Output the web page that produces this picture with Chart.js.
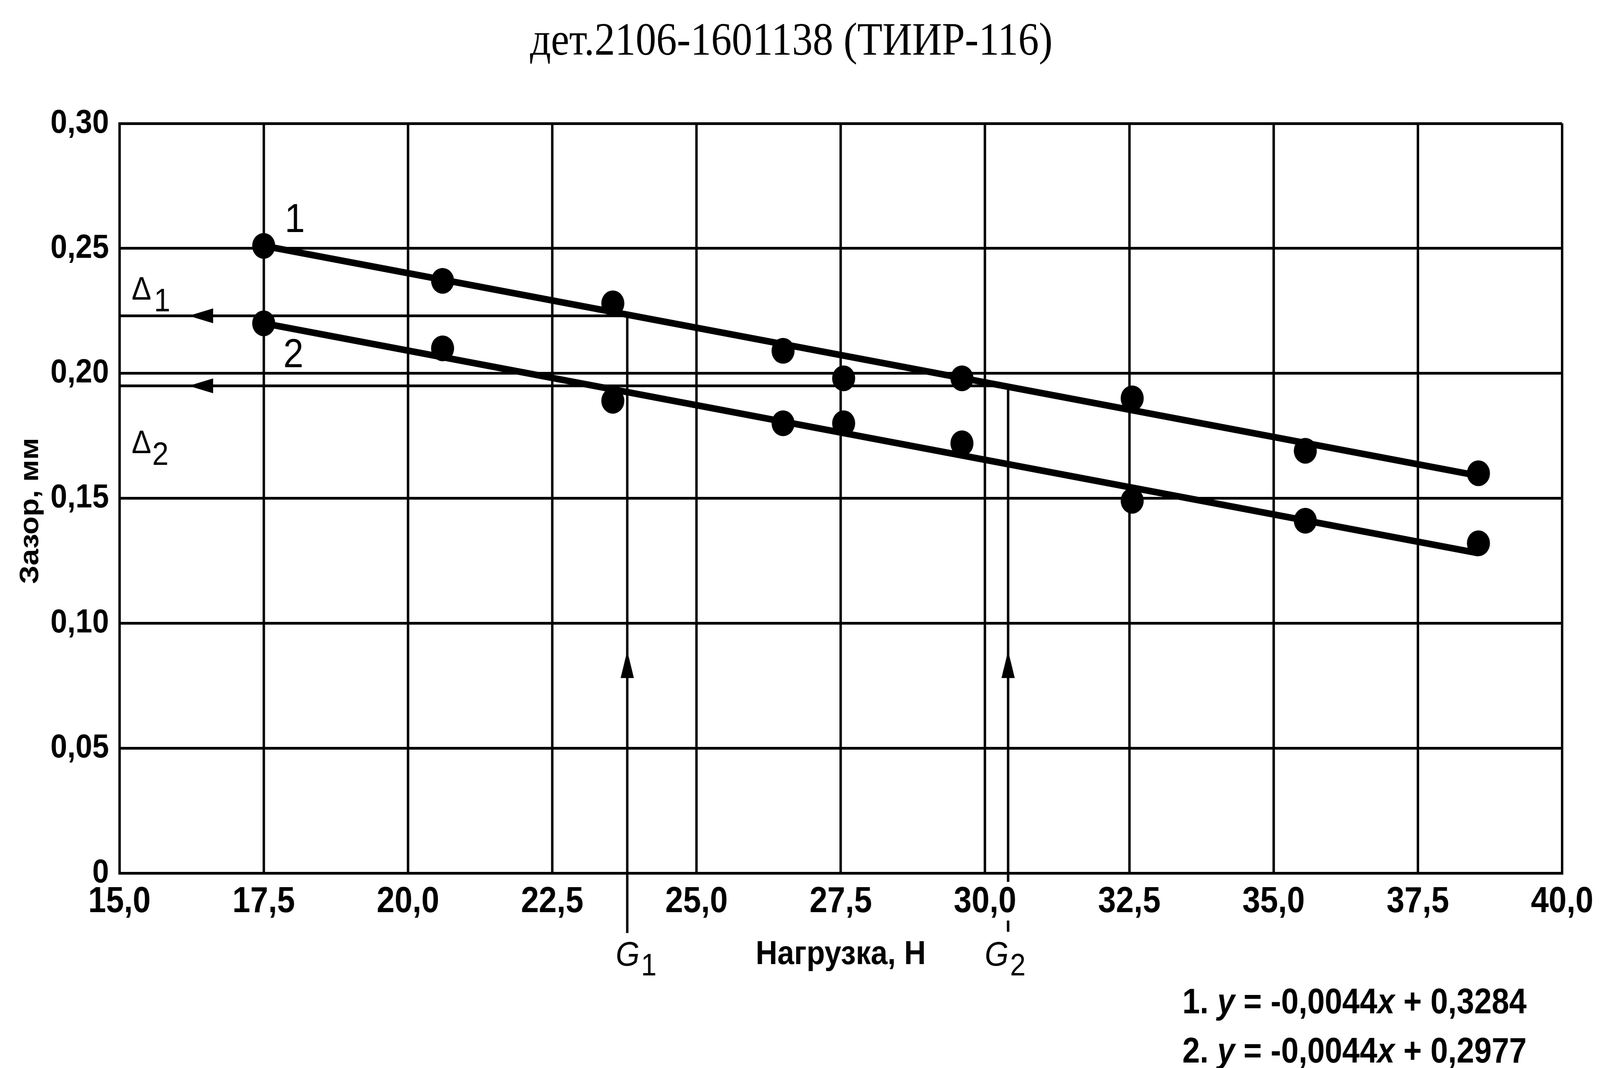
<!DOCTYPE html>
<html>
<head>
<meta charset="utf-8">
<script src="https://cdn.jsdelivr.net/npm/chart.js@4.4.1/dist/chart.umd.min.js"></script>
<style>
  html, body { margin: 0; padding: 0; background: #fff; overflow: hidden; }
</style>
</head>
<body>
<canvas id="chart" width="4582" height="2734" style="display:block;width:100vw;height:100vh"></canvas>
<script>
// Нагрузка, Н
const loads = [17.5, 20.6, 23.55, 26.5, 27.55, 29.6, 32.55, 35.55, 38.55];
// Зазор, мм (кривая 1 и кривая 2)
const gap1 = [0.251, 0.237, 0.228, 0.209, 0.198, 0.198, 0.190, 0.169, 0.160];
const gap2 = [0.220, 0.210, 0.189, 0.180, 0.180, 0.172, 0.149, 0.141, 0.132];

// линии тренда (концы)
const trendX = [17.5, 38.55];
const trend1 = [0.251, 0.159];
const trend2 = [0.220, 0.128];

// G1, G2 и уровни Δ1, Δ2
const gLoads = [23.8, 30.4];
const deltaGaps = [0.223, 0.195];
const arrowLoad = 16.2;   // острие горизонтальных стрелок
const arrowGap = 0.089;   // острие вертикальных стрелок

const xTickLabels = ['15,0', '17,5', '20,0', '22,5', '25,0', '27,5', '30,0', '32,5', '35,0', '37,5', '40,0'];
const yTickLabels = ['0', '0,05', '0,10', '0,15', '0,20', '0,25', '0,30'];
const equations = ['1. y = -0,0044x + 0,3284', '2. y = -0,0044x + 0,2977'];

const pts = (xs, ys) => xs.map((v, i) => ({ x: v, y: ys[i] }));

const lineDs = (data, w, extra) => Object.assign({
  data, showLine: true, borderColor: '#000', borderWidth: w,
  pointRadius: 0, borderCapStyle: 'butt', spanGaps: false, order: 2
}, extra || {});

const annot = {
  id: 'annot',
  afterDatasetsDraw(chart) {
    const { ctx, scales: { x, y } } = chart;
    ctx.save();
    ctx.fillStyle = '#000';

    // стрелки
    const L = 70, H = 19;
    deltaGaps.forEach(g => {
      const px = x.getPixelForValue(arrowLoad), py = y.getPixelForValue(g);
      ctx.beginPath();
      ctx.moveTo(px, py); ctx.lineTo(px + L, py - H); ctx.lineTo(px + L, py + H);
      ctx.closePath(); ctx.fill();
    });
    gLoads.forEach(v => {
      const px = x.getPixelForValue(v), py = y.getPixelForValue(arrowGap);
      ctx.beginPath();
      ctx.moveTo(px, py); ctx.lineTo(px - H, py + L); ctx.lineTo(px + H, py + L);
      ctx.closePath(); ctx.fill();
    });

    // заголовок
    ctx.textBaseline = 'alphabetic';
    ctx.textAlign = 'center';
    ctx.font = '118px "Liberation Serif"';
    ctx.fillText('дет.2106-1601138 (ТИИР-116)', 2266, 140);

    ctx.textAlign = 'left';

    // номера кривых
    const p1 = x.getPixelForValue(loads[0]);
    ctx.font = '104px "Liberation Sans"';
    ctx.fillText('1', p1 + 60, y.getPixelForValue(gap1[0]) - 35);
    ctx.fillText('2', p1 + 56, y.getPixelForValue(gap2[0]) + 112);

    // Δ1, Δ2
    ctx.font = '84px "Liberation Sans"';
    const d1y = y.getPixelForValue(deltaGaps[0]);
    const d2y = y.getPixelForValue(deltaGaps[1]);
    ctx.fillText('\u0394', 377, d1y - 42);
    ctx.fillText('1', 441, d1y - 12);
    ctx.fillText('\u0394', 377, d2y + 172);
    ctx.fillText('2', 436, d2y + 202);

    // G1, G2
    const gOff = [-33, -67];
    gLoads.forEach((v, i) => {
      const px = x.getPixelForValue(v) + gOff[i];
      ctx.font = 'italic 88px "Liberation Sans"';
      ctx.fillText('G', px, 2472);
      const w = ctx.measureText('G').width;
      ctx.font = '80px "Liberation Sans"';
      ctx.fillText(String(i + 1), px + w + 4, 2497);
    });

    // уравнения
    const base = [2594, 2720];
    equations.forEach((eq, i) => {
      let cx = 3386;
      for (const ch of eq) {
        ctx.font = (ch === 'x' || ch === 'y') ? 'italic bold 90px "Liberation Sans"' : 'bold 90px "Liberation Sans"';
        ctx.fillText(ch, cx, base[i]);
        cx += ctx.measureText(ch).width;
      }
    });

    // подпись оси Y
    ctx.translate(88, 1308);
    ctx.rotate(-Math.PI / 2);
    ctx.textAlign = 'center';
    ctx.textBaseline = 'middle';
    ctx.font = 'bold 76px "Liberation Sans"';
    ctx.fillText('Зазор, мм', 0, 0);
    ctx.restore();
  }
};

new Chart(document.getElementById('chart'), {
  type: 'scatter',
  data: {
    datasets: [
      { data: pts(loads, gap1), pointRadius: 33, pointBackgroundColor: '#000', pointBorderWidth: 0, order: 0 },
      { data: pts(loads, gap2), pointRadius: 33, pointBackgroundColor: '#000', pointBorderWidth: 0, order: 0 },
      lineDs(pts(trendX, trend1), 17, { order: 1 }),
      lineDs(pts(trendX, trend2), 17, { order: 1 }),
      lineDs([{ x: 15, y: deltaGaps[0] }, { x: gLoads[0], y: deltaGaps[0] }], 7),
      lineDs([{ x: 15, y: deltaGaps[1] }, { x: gLoads[1], y: deltaGaps[1] }], 7),
      lineDs([{ x: gLoads[0], y: deltaGaps[0] }, { x: gLoads[0], y: -0.024 }], 7, { clip: false }),
      lineDs([{ x: gLoads[1], y: deltaGaps[1] }, { x: gLoads[1], y: -0.0035 }, { x: gLoads[1], y: null },
              { x: gLoads[1], y: -0.019 }, { x: gLoads[1], y: -0.0235 }], 7, { clip: false })
    ]
  },
  options: {
    responsive: false,
    animation: false,
    devicePixelRatio: 1,
    events: [],
    layout: { padding: { top: 316, right: 103, bottom: 0, left: 0 } },
    plugins: {
      legend: { display: false },
      tooltip: { enabled: false },
      title: { display: false }
    },
    scales: {
      x: {
        type: 'linear', min: 15, max: 40,
        afterFit: s => { s.height = 499; },
        ticks: {
          stepSize: 2.5, padding: 19, color: '#000',
          font: { family: '"Liberation Sans"', size: 92, weight: 'bold' },
          callback: (v, i) => xTickLabels[i]
        },
        grid: { color: '#000', lineWidth: 7, drawTicks: false },
        border: { color: '#000', width: 7 },
        title: {
          display: true, text: 'Нагрузка, Н', color: '#000',
          font: { family: '"Liberation Sans"', size: 86, weight: 'bold' },
          padding: { top: 0, bottom: 238 }
        }
      },
      y: {
        type: 'linear', min: 0, max: 0.30,
        afterFit: s => { s.width = 342; },
        ticks: {
          stepSize: 0.05, padding: 30, color: '#000',
          font: { family: '"Liberation Sans"', size: 86, weight: 'bold' },
          callback: (v, i) => yTickLabels[i]
        },
        grid: { color: '#000', lineWidth: 7, drawTicks: false },
        border: { color: '#000', width: 7 }
      }
    }
  },
  plugins: [annot]
});
</script>
</body>
</html>
